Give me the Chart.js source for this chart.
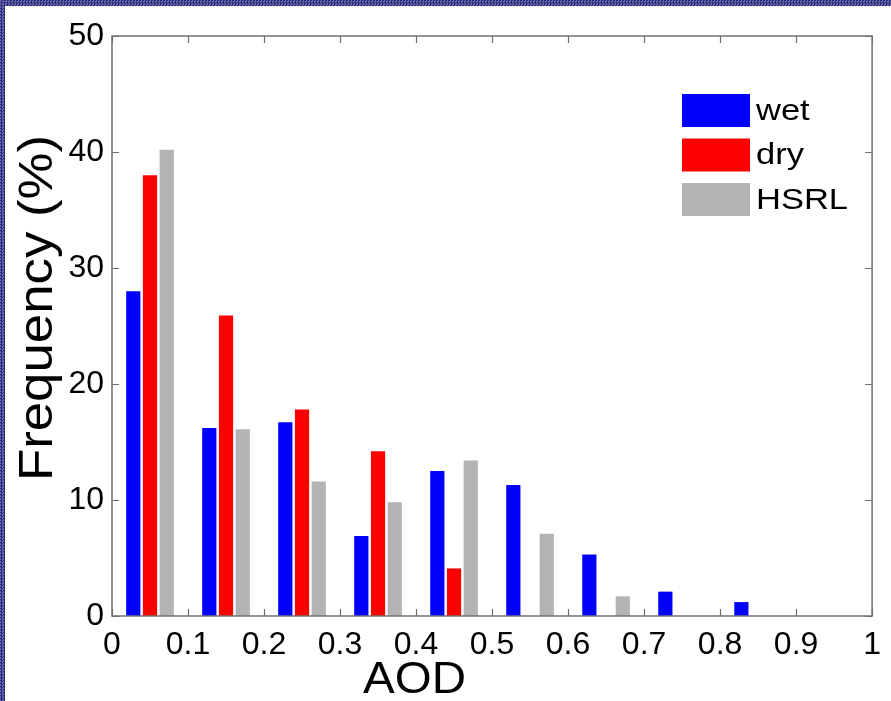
<!DOCTYPE html>
<html>
<head>
<meta charset="utf-8">
<script src="https://cdn.jsdelivr.net/npm/chart.js@4/dist/chart.umd.min.js"></script>
<style>
  html, body { margin: 0; padding: 0; background: #ffffff; }
  #wrap { position: relative; width: 891px; height: 701px; overflow: hidden; background: #ffffff; }
  .frame { position: absolute; background-color: #2b2e7e;
    background-image: repeating-conic-gradient(#2a2c78 0% 25%, #6a6db2 0% 50%);
    background-size: 3px 3px; }
  #ftop { left: 0; top: 0; width: 891px; height: 6px; }
  #fleft { left: 0; top: 0; width: 5px; height: 701px; }
  canvas { position: absolute; left: 0; top: 0; }
</style>
</head>
<body>
<div id="wrap">
  <div class="frame" id="ftop"></div>
  <div class="frame" id="fleft"></div>
  <canvas id="c" width="891" height="701"></canvas>
</div>
<script>
// ---- data ----
const binCenters = [0.05, 0.15, 0.25, 0.35, 0.45, 0.55, 0.65, 0.75, 0.85, 0.95];
const wetValues  = [28.0, 16.2, 16.7, 6.9, 12.5, 11.3, 5.3, 2.1, 1.2, 0];
const dryValues  = [38.0, 25.9, 17.8, 14.2, 4.1, 0, 0, 0, 0, 0];
const hsrlValues = [40.2, 16.1, 11.6, 9.8, 13.4, 7.1, 1.7, 0, 0, 0];
const seriesNames = ['wet', 'dry', 'HSRL'];
const xTickLabels = ['0', '0.1', '0.2', '0.3', '0.4', '0.5', '0.6', '0.7', '0.8', '0.9', '1'];
const yTickLabels = ['0', '10', '20', '30', '40', '50'];
const xTitle = 'AOD';
const yTitle = 'Frequency (%)';

const FONT = '"Liberation Sans", Arial, sans-serif';
const AXIS_COLOR = '#707070';

function toPoints(vals) { return binCenters.map((x, i) => ({ x: x, y: vals[i] })); }

function stretchedText(ctx, text, x, y, sx) {
  ctx.save();
  ctx.translate(x, y);
  ctx.scale(sx, 1);
  ctx.fillText(text, 0, 0);
  ctx.restore();
}

const boxPlugin = {
  id: 'boxPlugin',
  afterDatasetsDraw(chart) {
    const { ctx, chartArea: a, scales } = chart;
    const xs = scales.x, ys = scales.y;
    ctx.save();
    ctx.strokeStyle = AXIS_COLOR;
    ctx.lineWidth = 1.5;
    ctx.strokeRect(a.left, a.top, a.right - a.left, a.bottom - a.top);
    const tl = 7;
    ctx.lineWidth = 1.2;
    ctx.beginPath();
    xs.ticks.forEach(t => {
      const px = Math.round(xs.getPixelForValue(t.value)) + 0.5;
      ctx.moveTo(px, a.bottom); ctx.lineTo(px, a.bottom - tl);
      ctx.moveTo(px, a.top); ctx.lineTo(px, a.top + tl);
    });
    ys.ticks.forEach(t => {
      const py = Math.round(ys.getPixelForValue(t.value)) + 0.5;
      ctx.moveTo(a.left, py); ctx.lineTo(a.left + tl, py);
      ctx.moveTo(a.right, py); ctx.lineTo(a.right - tl, py);
    });
    ctx.stroke();

    // legend (inside plot, upper right)
    const lx = 682, ly0 = 94, bw = 68, bh = 33, pitch = 44.5;
    ctx.font = '30px ' + FONT;
    ctx.textBaseline = 'middle';
    ctx.textAlign = 'left';
    chart.data.datasets.forEach((ds, i) => {
      const y = ly0 + i * pitch;
      ctx.fillStyle = ds.backgroundColor;
      ctx.fillRect(lx, y, bw, bh);
      ctx.fillStyle = '#000';
      stretchedText(ctx, ds.label, lx + bw + 6, y + bh / 2 + 1, 1.15);
    });

    // axis titles
    ctx.fillStyle = '#000';
    ctx.font = '44px ' + FONT;
    ctx.textAlign = 'center';
    ctx.textBaseline = 'alphabetic';
    stretchedText(ctx, xTitle, xs.getPixelForValue(0.398), 693, 1.08);
    ctx.save();
    ctx.translate(52, 308);
    ctx.rotate(-Math.PI / 2);
    ctx.scale(1.1, 1);
    ctx.font = '48px ' + FONT;
    ctx.fillText(yTitle, 0, 0);
    ctx.restore();
    ctx.restore();
  }
};

new Chart(document.getElementById('c'), {
  type: 'bar',
  data: {
    datasets: [
      { label: seriesNames[0], data: toPoints(wetValues),  backgroundColor: '#0000ff' },
      { label: seriesNames[1], data: toPoints(dryValues),  backgroundColor: '#ff0000' },
      { label: seriesNames[2], data: toPoints(hsrlValues), backgroundColor: '#b3b3b3' }
    ]
  },
  options: {
    responsive: false,
    animation: false,
    devicePixelRatio: 1,
    categoryPercentage: 0.66,
    barPercentage: 0.85,
    layout: { padding: { top: 36, right: 5, left: 0, bottom: 0 } },
    plugins: { legend: { display: false }, tooltip: { enabled: false }, title: { display: false } },
    scales: {
      x: {
        type: 'linear', min: 0, max: 1, offset: false,
        grid: { display: false, offset: false, drawTicks: false },
        border: { display: false },
        ticks: {
          stepSize: 0.1, padding: 10, color: '#000', maxRotation: 0, autoSkip: false,
          font: { family: FONT, size: 32 },
          callback: (v, i) => xTickLabels[i]
        },
        afterFit: s => { s.height = 85; }
      },
      y: {
        min: 0, max: 50,
        grid: { display: false, drawTicks: false },
        border: { display: false },
        ticks: {
          stepSize: 10, padding: 8, color: '#000',
          font: { family: FONT, size: 32 },
          callback: (v, i) => yTickLabels[i]
        },
        afterFit: s => { s.width = 112; }
      }
    }
  },
  plugins: [boxPlugin]
});
</script>
</body>
</html>
